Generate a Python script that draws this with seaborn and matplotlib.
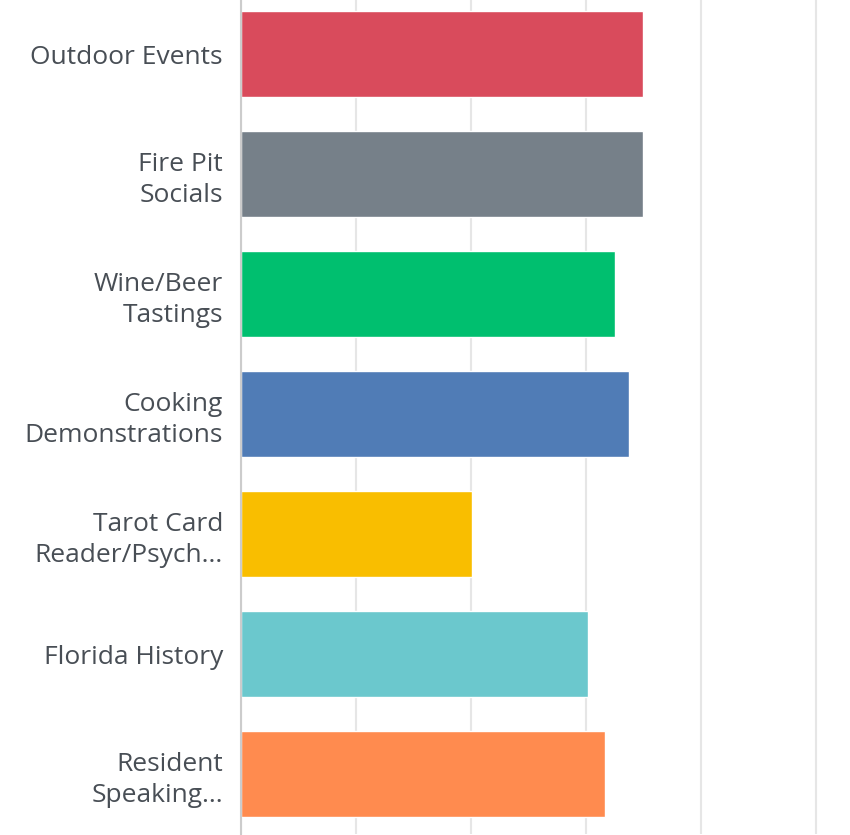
import matplotlib
matplotlib.use("Agg")
import pandas as pd
import seaborn as sns
import matplotlib.pyplot as plt

categories = [
    "Outdoor Events",
    "Fire Pit\nSocials",
    "Wine/Beer\nTastings",
    "Cooking\nDemonstrations",
    "Tarot Card\nReader/Psych...",
    "Florida History",
    "Resident\nSpeaking...",
]
percent = [70.0, 70.0, 65.0, 67.5, 40.2, 60.4, 63.3]
colors = ["#D94B5C", "#768089", "#00BF6F", "#507CB6", "#F9BE00", "#6BC8CD", "#FF8B4F"]

df = pd.DataFrame({"Category": categories, "Percent": percent})

sns.set_style("white")
plt.rcParams["font.family"] = ["Open Sans", "DejaVu Sans"]

fig = plt.figure(figsize=(8.5, 8.35), dpi=100)
ax = fig.add_axes([241 / 850, 1 / 835, 609 / 850, 840 / 835])

sns.barplot(data=df, y="Category", x="Percent", hue="Category", palette=colors,
            orient="h", width=0.72, legend=False, saturation=1, ax=ax)

ax.set_xlim(0, 609 / 5.75)
ax.set_ylim(6.5, -0.5)
ax.set_xticks([0, 20, 40, 60, 80, 100])
ax.xaxis.grid(True, color="#e6e6e6", linewidth=1.5)
ax.set_axisbelow(True)
ax.tick_params(axis="x", length=0, labelbottom=False)
ax.tick_params(axis="y", length=0, pad=13, labelsize=19, labelcolor="#484e55")
for lbl in ax.get_yticklabels():
    lbl.set_linespacing(1.3)
ax.set_xlabel("")
ax.set_ylabel("")
for s in ["top", "right", "bottom"]:
    ax.spines[s].set_visible(False)
ax.spines["left"].set_color("#cccccc")
ax.spines["left"].set_linewidth(1.5)

fig.savefig("out.png", dpi=100)
